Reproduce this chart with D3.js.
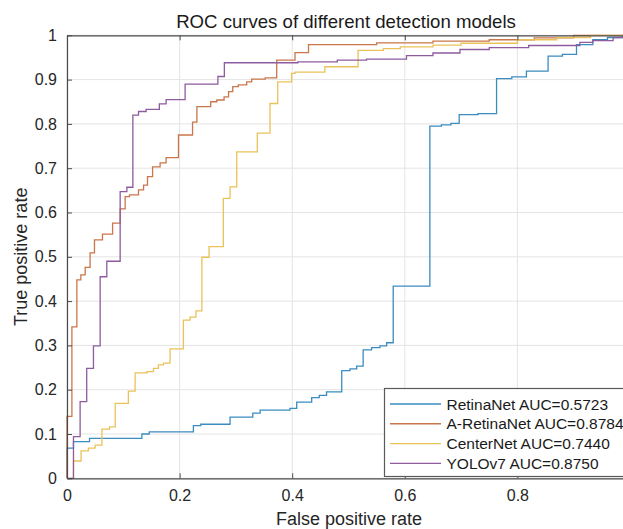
<!DOCTYPE html>
<html><head><meta charset="utf-8">
<script src="https://cdn.jsdelivr.net/npm/d3@7"></script>
<style>body{margin:0;background:#fff}svg{display:block;font-family:"Liberation Sans",Arial,sans-serif}</style>
</head><body><svg id="c" width="623" height="529"></svg>
<script>
const seriesNames = ["RetinaNet AUC=0.5723","A-RetinaNet AUC=0.8784","CenterNet AUC=0.7440","YOLOv7 AUC=0.8750"];
const colors = ["#3b8cc0","#c9774a","#eac25a","#8d5b9e"];
const xTicks = [0,0.2,0.4,0.6,0.8,1];
const yTicks = [0,0.1,0.2,0.3,0.4,0.5,0.6,0.7,0.8,0.9,1];
const xTickLabels = ["0","0.2","0.4","0.6","0.8",""];
const yTickLabels = ["0","0.1","0.2","0.3","0.4","0.5","0.6","0.7","0.8","0.9","1"];

const retinaFpr = [0,0,0.0115,0.040,0.133,0.146,0.2245,0.2376,0.2896,0.330,0.343,0.396,0.408,0.4346,0.448,0.461,0.488,0.5026,0.5145,0.526,0.541,0.5558,0.5677,0.5794,0.6445,0.665,0.682,0.6966,0.73,0.763,0.79,0.816,0.8545,0.88,0.905,0.934,0.96,0.987,1.0];
const retinaTpr = [0,0.068,0.083,0.090,0.100,0.105,0.119,0.122,0.138,0.147,0.154,0.158,0.172,0.182,0.187,0.195,0.243,0.247,0.253,0.290,0.295,0.299,0.306,0.434,0.795,0.798,0.801,0.821,0.823,0.902,0.906,0.919,0.953,0.957,0.979,0.990,0.995,1.0,1.0];

const aRetinaFpr = [0,0,0.0087,0.0175,0.0246,0.0323,0.041,0.0488,0.063,0.081,0.0945,0.1033,0.111,0.127,0.136,0.143,0.152,0.1654,0.176,0.198,0.223,0.2307,0.2553,0.2661,0.279,0.287,0.2944,0.3043,0.3192,0.328,0.352,0.3725,0.405,0.429,0.55,0.65,0.75,0.83,0.90,1.0];
const aRetinaTpr = [0,0.14,0.342,0.448,0.459,0.476,0.509,0.538,0.551,0.576,0.608,0.636,0.640,0.651,0.662,0.681,0.703,0.712,0.724,0.775,0.804,0.839,0.850,0.854,0.861,0.873,0.884,0.888,0.895,0.901,0.904,0.944,0.961,0.979,0.983,0.987,0.990,0.994,1.0,1.0];

const centerFpr = [0,0.0115,0.025,0.038,0.050,0.062,0.0755,0.0856,0.109,0.121,0.142,0.1536,0.1624,0.1714,0.1831,0.2067,0.2186,0.229,0.2396,0.2523,0.2777,0.2896,0.3015,0.338,0.3606,0.3743,0.399,0.4049,0.458,0.517,0.562,0.592,0.65,0.70,0.80,0.87,0.93,1.0];
const centerTpr = [0,0.039,0.062,0.068,0.075,0.111,0.116,0.169,0.197,0.238,0.241,0.248,0.256,0.260,0.292,0.357,0.364,0.378,0.499,0.523,0.632,0.658,0.737,0.779,0.846,0.895,0.914,0.917,0.929,0.966,0.970,0.974,0.978,0.982,0.990,0.995,1.0,1.0];

const yoloFpr = [0,0.0115,0.0233,0.035,0.0470,0.0589,0.0707,0.0944,0.1063,0.117,0.127,0.1405,0.164,0.176,0.2098,0.268,0.2795,0.41,0.48,0.532,0.603,0.650,0.698,0.75,0.82,0.911,0.934,0.97,1.0];
const yoloTpr = [0,0.094,0.173,0.248,0.299,0.455,0.490,0.647,0.657,0.820,0.828,0.833,0.845,0.855,0.890,0.907,0.938,0.940,0.944,0.946,0.954,0.960,0.968,0.972,0.977,0.984,0.988,0.995,1.0];

const fprs = [retinaFpr,aRetinaFpr,centerFpr,yoloFpr];
const tprs = [retinaTpr,aRetinaTpr,centerTpr,yoloTpr];

const svg = d3.select("#c");
const x = d3.scaleLinear().domain([0,1]).range([67,630]);
const y = d3.scaleLinear().domain([0,1]).range([478.3,35.3]);
const axisColor = "#4a4a4a";

// grid
const g = svg.append("g");
g.selectAll(".gx").data(xTicks).enter().append("line")
 .attr("x1",d=>x(d)).attr("x2",d=>x(d)).attr("y1",y(0)).attr("y2",y(1))
 .attr("stroke","#e4e4e4").attr("stroke-width",1);
g.selectAll(".gy").data(yTicks).enter().append("line")
 .attr("x1",x(0)).attr("x2",x(1)).attr("y1",d=>y(d)).attr("y2",d=>y(d))
 .attr("stroke","#e4e4e4").attr("stroke-width",1);

// curves
const line = d3.line().x(d=>x(d[0])).y(d=>y(d[1])).curve(d3.curveStepAfter);
fprs.forEach((f,i)=>{
  const pts = f.map((v,j)=>[v,tprs[i][j]]);
  svg.append("path").attr("d",line(pts)).attr("fill","none")
   .attr("stroke",colors[i]).attr("stroke-width",1.3);
});

// axes (MATLAB-style box with inward ticks)
const fmtX = (d,i)=>xTickLabels[i];
const fmtY = (d,i)=>yTickLabels[i];
const axB = svg.append("g").attr("transform",`translate(0,${y(0)})`)
 .call(d3.axisBottom(x).tickValues(xTicks).tickFormat(fmtX).tickSizeInner(-5).tickSizeOuter(0).tickPadding(11));
const axT = svg.append("g").attr("transform",`translate(0,${y(1)})`)
 .call(d3.axisTop(x).tickValues(xTicks).tickFormat("").tickSizeInner(-5).tickSizeOuter(0));
const axL = svg.append("g").attr("transform",`translate(${x(0)},0)`)
 .call(d3.axisLeft(y).tickValues(yTicks).tickFormat(fmtY).tickSizeInner(-5).tickSizeOuter(0).tickPadding(10));
const axR = svg.append("g").attr("transform",`translate(${x(1)},0)`)
 .call(d3.axisRight(y).tickValues(yTicks).tickFormat("").tickSizeInner(-5).tickSizeOuter(0));
[axB,axT,axL,axR].forEach(a=>{
  a.select(".domain").attr("stroke",axisColor).attr("stroke-width",1.2);
  a.selectAll(".tick line").attr("stroke",axisColor);
  a.selectAll("text").attr("fill","#262626").style("font-size","16px").style("font-family",'"Liberation Sans",Arial,sans-serif');
});

// title & labels
svg.append("text").attr("x",346).attr("y",28).attr("text-anchor","middle")
 .style("font-size","18.6px").attr("fill","#1a1a1a").text("ROC curves of different detection models");
svg.append("text").attr("x",349).attr("y",524.5).attr("text-anchor","middle")
 .style("font-size","18px").attr("fill","#262626").text("False positive rate");
svg.append("text").attr("transform",`translate(27,${(y(0)+y(1))/2}) rotate(-90)`).attr("text-anchor","middle")
 .style("font-size","18px").attr("fill","#262626").text("True positive rate");

// legend
const lg = svg.append("g");
lg.append("rect").attr("x",384.5).attr("y",388.5).attr("width",260).attr("height",88)
 .attr("fill","#fff").attr("stroke","#5a5a5a").attr("stroke-width",1.2);
const rowY = d3.scaleLinear().domain([0,3]).range([404,463.3]);
seriesNames.forEach((n,i)=>{
  lg.append("line").attr("x1",390).attr("x2",441).attr("y1",rowY(i)).attr("y2",rowY(i))
   .attr("stroke",colors[i]).attr("stroke-width",1.3);
  lg.append("text").attr("x",446.5).attr("y",rowY(i)+5.5).style("font-size","15.5px")
   .attr("fill","#1a1a1a").text(n);
});
</script></body></html>
